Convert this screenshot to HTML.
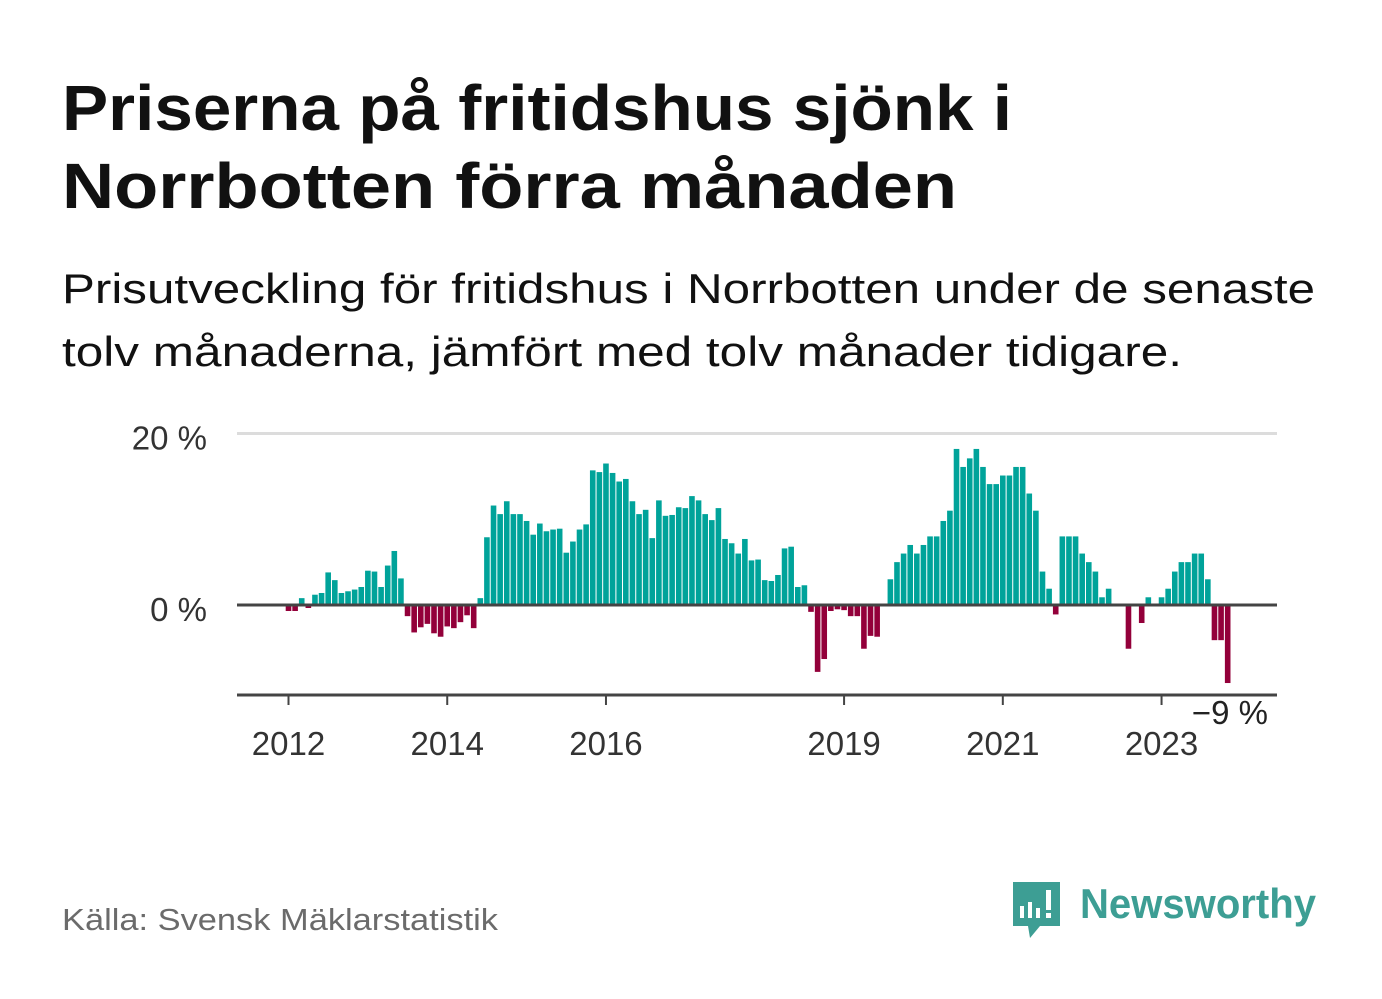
<!DOCTYPE html>
<html><head><meta charset="utf-8"><style>
html,body{margin:0;padding:0;background:#fff;}
svg{display:block;font-family:"Liberation Sans",sans-serif;}
</style></head><body>
<svg id="chart" width="1382" height="999" viewBox="0 0 1382 999" xmlns="http://www.w3.org/2000/svg">
<text x="62" y="130" font-size="64" font-weight="bold" fill="#111" textLength="950" lengthAdjust="spacingAndGlyphs">Priserna på fritidshus sjönk i</text>
<text x="62" y="208" font-size="64" font-weight="bold" fill="#111" textLength="895" lengthAdjust="spacingAndGlyphs">Norrbotten förra månaden</text>
<text x="62" y="303" font-size="42" fill="#111" textLength="1253" lengthAdjust="spacingAndGlyphs">Prisutveckling för fritidshus i Norrbotten under de senaste</text>
<text x="62" y="366" font-size="42" fill="#111" textLength="1120" lengthAdjust="spacingAndGlyphs">tolv månaderna, jämfört med tolv månader tidigare.</text>
<g id="plot"></g>
<text x="62" y="930" font-size="31" fill="#6b6b6b" textLength="436" lengthAdjust="spacingAndGlyphs">Källa: Svensk Mäklarstatistik</text>
<g>
<path d="M1013 882 h47 v44 h-20 l-10 12 l-2 -12 h-15 z" fill="#3d9e94"/>
<rect x="1020" y="906" width="4" height="12" fill="#fff"/>
<rect x="1028" y="902" width="4" height="16" fill="#fff"/>
<rect x="1036" y="908" width="4" height="10" fill="#fff"/>
<rect x="1046" y="890" width="5" height="20" fill="#fff"/>
<rect x="1046" y="913" width="5" height="5" fill="#fff"/>
<text x="1080" y="918" font-size="42" font-weight="bold" fill="#3d9e94" textLength="236" lengthAdjust="spacingAndGlyphs">Newsworthy</text>
</g>
</svg>
<script>
const monthIndex = [];
const values = [-0.7,-0.7,0.8,-0.35,1.2,1.4,3.8,2.9,1.4,1.6,1.8,2.1,4.0,3.9,2.1,4.6,6.3,3.1,-1.3,-3.2,-2.6,-2.2,-3.3,-3.7,-2.5,-2.7,-2.0,-1.2,-2.7,0.8,7.9,11.6,10.6,12.1,10.6,10.6,9.8,8.2,9.5,8.6,8.8,8.9,6.1,7.4,8.8,9.4,15.7,15.5,16.5,15.4,14.4,14.7,12.1,10.6,11.1,7.8,12.2,10.4,10.5,11.4,11.3,12.7,12.2,10.6,9.9,11.3,7.7,7.2,6.0,7.7,5.2,5.3,2.9,2.8,3.5,6.6,6.8,2.1,2.3,-0.8,-7.8,-6.3,-0.7,-0.5,-0.6,-1.3,-1.3,-5.1,-3.6,-3.7,0,3.0,5.0,6.0,7.0,6.0,7.0,8.0,8.0,9.8,11.0,18.2,16.1,17.1,18.2,16.1,14.1,14.1,15.1,15.1,16.1,16.1,13.0,11.0,3.9,1.9,-1.1,8.0,8.0,8.0,6.0,5.0,3.9,0.9,1.9,0,0,-5.1,0,-2.1,0.9,0,0.9,1.9,3.9,5.0,5.0,6.0,6.0,3.0,-4.1,-4.1,-9.1];
for (let i = 0; i < values.length; i++) monthIndex.push(i);
const yearTicks = [2012, 2014, 2016, 2019, 2021, 2023];
const yTicks = [0, 20];

const NS = "http://www.w3.org/2000/svg";
const plot = document.getElementById('plot');
const X0 = 237, X1 = 1277;
function xScale(m) { return 288.5 + m * 6.614; }
function yScale(v) { return 605 - v * 8.575; }
function mk(tag, attrs) { const e = document.createElementNS(NS, tag); for (const k in attrs) e.setAttribute(k, attrs[k]); return e; }

// gridline 20%
yTicks.forEach(t => {
  if (t !== 0) {
    const g = mk('line', {x1: X0, x2: X1, y1: yScale(t), y2: yScale(t), stroke: '#dcdcdc', 'stroke-width': 3});
    
    
    plot.appendChild(g);
  }
  const lab = mk('text', {x: 207, y: yScale(t) + 16, 'font-size': 33, fill: '#333', 'text-anchor': 'end'});
  lab.textContent = t + ' %';
  
  
  plot.appendChild(lab);
});

// bars
values.forEach((v, i) => {
  const x = xScale(monthIndex[i]) - 2.8;
  const y0 = yScale(0), y1 = yScale(v);
  const r = mk('rect', {x: x, y: Math.min(y0, y1), width: 5.6, height: Math.abs(y1 - y0), fill: v >= 0 ? '#00a39a' : '#93003a'});
  
  
  plot.appendChild(r);
});

// zero line
const zl = mk('line', {x1: X0, x2: X1, y1: yScale(0), y2: yScale(0), stroke: '#444', 'stroke-width': 3});


plot.appendChild(zl);

// bottom axis
const ax = mk('line', {x1: X0, x2: X1, y1: 695, y2: 695, stroke: '#444', 'stroke-width': 3});


plot.appendChild(ax);

yearTicks.forEach(yr => {
  const m = (yr - 2012) * 12;
  const tk = mk('line', {x1: xScale(m), x2: xScale(m), y1: 695, y2: 705, stroke: '#444', 'stroke-width': 2});
  
  
  plot.appendChild(tk);
  const lab = mk('text', {x: xScale(m), y: 755, 'font-size': 33, fill: '#333', 'text-anchor': 'middle'});
  lab.textContent = yr;
  
  
  plot.appendChild(lab);
});

// min label
const minVal = Math.min(...values);
const ml = mk('text', {x: 1268, y: 724, 'font-size': 33, fill: '#222', 'text-anchor': 'end', stroke: '#fff', 'stroke-width': 6, 'paint-order': 'stroke'});
ml.textContent = '\u2212' + Math.round(Math.abs(minVal)) + ' %';


plot.appendChild(ml);
</script>
</body></html>
